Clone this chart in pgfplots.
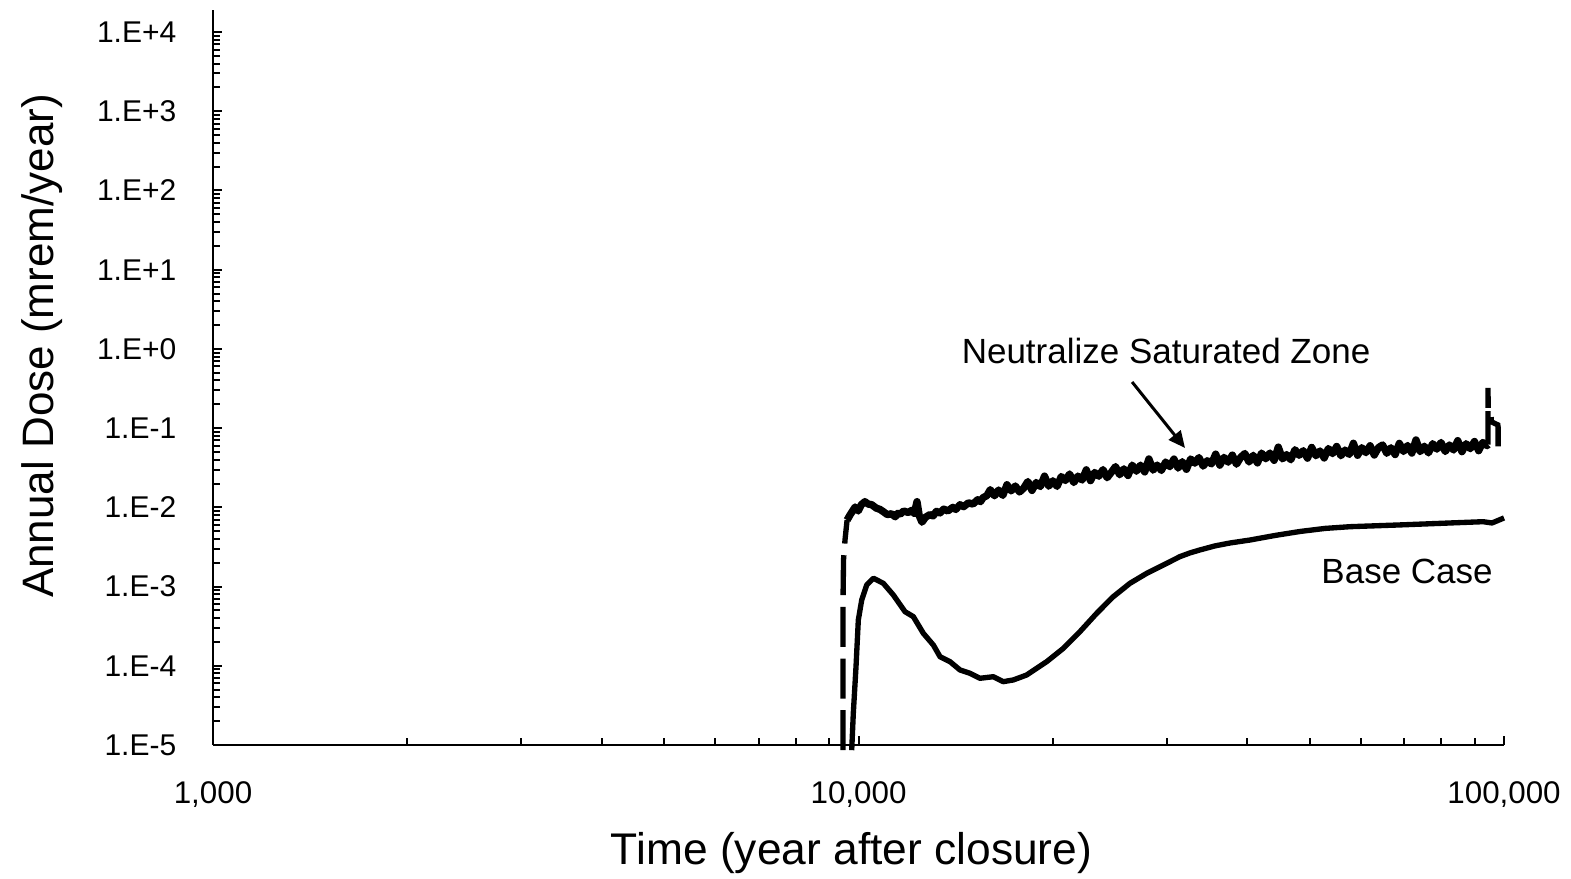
\documentclass[border=0pt]{standalone}
\usepackage{fontspec}
\setmainfont{Liberation Sans}
\usepackage{pgfplots}
\pgfplotsset{compat=1.18}
\usetikzlibrary{arrows.meta}
\begin{document}
\begin{tikzpicture}
\useasboundingbox (-63.9pt,-40.2pt) rectangle (407.4pt,223.5pt);
\begin{axis}[
  at={(0pt,0pt)}, anchor=south west,
  scale only axis, width=387.3pt, height=220.5pt,
  xmode=log, ymode=log,
  xmin=1000, xmax=100000, ymin=1e-5, ymax=1.9e4,
  axis x line=bottom, axis y line=left,
  axis line style={-, line width=0.7pt},
  tick align=inside,
  major tick length=2.6pt, minor tick length=2.1pt,
  every tick/.style={black, line width=0.6pt},
  xtick={1000,10000,100000},
  xticklabels={{1,000},{10,000},{100,000}},
  minor xtick={2000,3000,4000,5000,6000,7000,8000,9000,20000,30000,40000,50000,60000,70000,80000,90000},
  ytick={1e-5,1e-4,1e-3,1e-2,1e-1,1,10,100,1000,10000},
  yticklabels={1.E-5,1.E-4,1.E-3,1.E-2,1.E-1,1.E+0,1.E+1,1.E+2,1.E+3,1.E+4},
  minor ytick={2e-5,3e-5,4e-5,5e-5,6e-5,7e-5,8e-5,9e-5,
    2e-4,3e-4,4e-4,5e-4,6e-4,7e-4,8e-4,9e-4,
    2e-3,3e-3,4e-3,5e-3,6e-3,7e-3,8e-3,9e-3,
    2e-2,3e-2,4e-2,5e-2,6e-2,7e-2,8e-2,9e-2,
    0.2,0.3,0.4,0.5,0.6,0.7,0.8,0.9,
    2,3,4,5,6,7,8,9,
    20,30,40,50,60,70,80,90,
    200,300,400,500,600,700,800,900,
    2000,3000,4000,5000,6000,7000,8000,9000},
  yticklabel style={font=\fontsize{9}{11}\selectfont, xshift=-7.5pt},
  xticklabel style={font=\fontsize{9.4}{11}\selectfont, yshift=-7.6pt},
  clip=false,
]
% Neutralize Saturated Zone: dashed rise
\addplot[black, line width=1.6pt, dash pattern=on 12pt off 3.5pt] coordinates {
(9462,8.6e-6) (9462,6.8e-4) (9480,0.0022) (9530,0.0039) (9600,0.0069)
};
% Neutralize Saturated Zone: noisy body
\addplot[black, line width=2.2pt, line join=round] coordinates {
(9600,0.0069) (9700,0.0080) (9880,0.0101) (9990,0.0090) (10100,0.0108)
(10230,0.0118) (10350,0.0110) (10480,0.0108) (10650,0.0098) (10800,0.0094)
(10950,0.0087) (11080,0.0081) (11250,0.0083) (11400,0.0076) (11500,0.0084)
(11600,0.0082) (11750,0.0090) (11940,0.0086) (12100,0.0092) (12200,0.0084)
(12320,0.0118) (12420,0.0078) (12540,0.0065) (12700,0.0075) (12900,0.0081)
(13050,0.0078) (13200,0.0089) (13370,0.0085) (13550,0.0095) (13750,0.0090)
(14000,0.0100) (14150,0.0094) (14360,0.0108) (14550,0.0102) (14800,0.0114)
(15040,0.0110) (15300,0.0125) (15450,0.0118) (15600,0.0133) (15800,0.0140)
(16000,0.01672) (16240,0.01399) (16484,0.01653) (16731,0.01414) (16982,0.01928)
(17237,0.01615) (17495,0.01860) (17758,0.01564) (18024,0.01745) (18294,0.02119)
(18569,0.01635) (18847,0.02061) (19130,0.01829) (19417,0.02480) (19708,0.01851)
(20004,0.02163) (20304,0.01839) (20608,0.02448) (20917,0.02182) (21231,0.02637)
(21550,0.02057) (21873,0.02479) (22201,0.02212) (22534,0.02975) (22872,0.02174)
(23215,0.02758) (23563,0.02472) (23917,0.02997) (24276,0.02369) (24640,0.02771)
(25009,0.03270) (25385,0.02582) (25765,0.03065) (26152,0.02525) (26544,0.03415)
(26942,0.02860) (27346,0.03411) (27757,0.02802) (28173,0.04082) (28596,0.02950)
(29024,0.03417) (29460,0.02920) (29902,0.03735) (30350,0.03263) (30806,0.04067)
(31268,0.03130) (31737,0.03771) (32213,0.03024) (32696,0.04080) (33186,0.03612)
(33684,0.04252) (34189,0.03315) (34702,0.03880) (35223,0.03535) (35751,0.04695)
(36288,0.03410) (36832,0.04275) (37384,0.03717) (37945,0.04562) (38514,0.03506)
(39092,0.04282) (39678,0.04782) (40273,0.03738) (40877,0.04539) (41491,0.03641)
(42113,0.04845) (42745,0.04107) (43386,0.04854) (44036,0.03922) (44697,0.05761)
(45368,0.04091) (46048,0.04637) (46739,0.03988) (47440,0.05339) (48152,0.04541)
(48874,0.05194) (49607,0.04176) (50351,0.05706) (51106,0.04482) (51873,0.05153)
(52651,0.04203) (53441,0.05530) (54242,0.04768) (55056,0.05865) (55882,0.04483)
(56720,0.05286) (57571,0.04653) (58434,0.06443) (59311,0.04543) (60200,0.05668)
(61103,0.04905) (62020,0.05990) (62950,0.04581) (63894,0.05675) (64853,0.06134)
(65826,0.04813) (66813,0.05652) (67815,0.04643) (68833,0.06423) (69865,0.05073)
(70913,0.06038) (71977,0.04840) (73057,0.07097) (74152,0.05052) (75265,0.05920)
(76394,0.04870) (77540,0.06371) (78703,0.05427) (79883,0.06599) (81081,0.05072)
(82297,0.06137) (83532,0.05292) (84785,0.06950) (86057,0.05044) (87348,0.06362)
(88658,0.05502) (89988,0.06774) (91337,0.05192) (92707,0.06593) (94098,0.06020)
(94450,0.0620)
};
% Neutralize Saturated Zone: dashed tail
\addplot[black, line width=1.6pt, dash pattern=on 10pt off 3pt] coordinates {
(94450,0.0620) (94450,0.322) (94500,0.160) (95500,0.138) (95600,0.120)
(97800,0.110) (97900,0.104) (97900,0.053)
};
% Base Case
\addplot[black, line width=1.6pt, line join=round] coordinates {
(9760,8.6e-6) (9816,2.51e-5) (9911,9.75e-5) (9993,3.79e-4) (10115,6.78e-4)
(10297,1.047e-3) (10542,1.274e-3) (10924,1.10e-3) (11322,7.83e-4) (11803,4.82e-4)
(12160,4.17e-4) (12601,2.57e-4) (13058,1.83e-4) (13375,1.30e-4) (13859,1.127e-4)
(14361,8.86e-5) (14882,8.04e-5) (15422,6.95e-5) (16175,7.28e-5) (16760,6.30e-5)
(17369,6.62e-5) (18218,7.65e-5) (18880,9.3e-5) (19568,1.127e-4) (20764,1.66e-4)
(22033,2.70e-4) (23388,4.60e-4) (24813,7.46e-4) (26336,1.10e-3) (27960,1.47e-3)
(29660,1.87e-3) (31480,2.39e-3) (32620,2.66e-3) (33810,2.90e-3) (35660,3.26e-3)
(37630,3.55e-3) (40410,3.87e-3) (44200,4.42e-3) (48310,4.96e-3) (52800,5.42e-3)
(57730,5.70e-3) (69000,6.00e-3) (82480,6.35e-3) (92800,6.59e-3) (95800,6.35e-3)
(100000,7.35e-3)
};
\node[anchor=base, font=\fontsize{10.5}{12}\selectfont] at (rel axis cs:0.7382,0.5184) {Neutralize Saturated Zone};
\draw[line width=0.9pt, -{Triangle[length=5pt,width=4.5pt]}] (rel axis cs:0.7119,0.4939) -- (rel axis cs:0.7529,0.4041);
\node[anchor=base, font=\fontsize{10.5}{12}\selectfont] at (rel axis cs:0.9249,0.2200) {Base Case};
\node[anchor=base, font=\fontsize{13.3}{15}\selectfont] at (rel axis cs:0.4946,-0.163) {Time (year after closure)};
\node[anchor=base, rotate=90, font=\fontsize{13.2}{15}\selectfont] at (rel axis cs:-0.1239,0.5429) {Annual Dose (mrem/year)};
\end{axis}
\end{tikzpicture}
\end{document}
